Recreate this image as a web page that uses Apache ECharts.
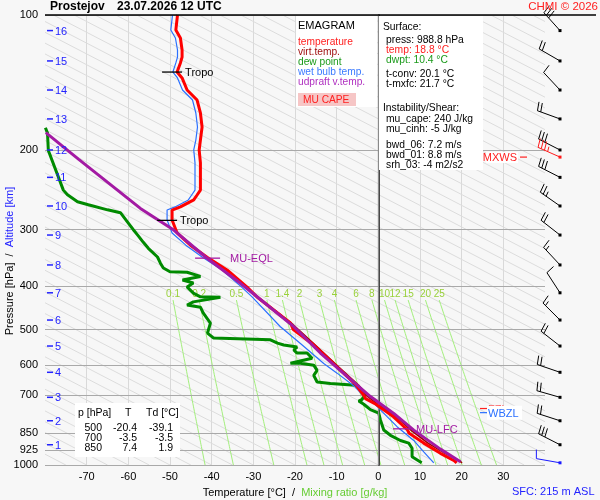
<!DOCTYPE html>
<html>
<head>
<meta charset="utf-8">
<script src="https://cdn.jsdelivr.net/npm/echarts/dist/echarts.min.js"></script>
<style>
  html, body { margin: 0; padding: 0; background: #f7f7f7; }
  #main { width: 600px; height: 500px; }
</style>
</head>
<body>
<div id="main"></div>
<script>
// sounding profiles, [pressure hPa, temperature °C]
var temperature = [
  [100, -48.2], [108, -48.6], [112.5, -47.5], [119.6, -47.1], [124, -47.1], [127.8, -47.5],
  [133.9, -48.3], [138, -47.1], [146.8, -45.9], [154.5, -43.5], [165.1, -42.7], [177.4, -42.3],
  [189.6, -42.7], [199.5, -43.0], [213.1, -42.7], [244.9, -42.7], [251.2, -43.5], [257.6, -44.3],
  [267, -47.5], [271.3, -49.5], [285.5, -49.5], [305, -48.3], [324.7, -45.1], [345.3, -41.1],
  [368.6, -36.3], [402.5, -31.5], [423.4, -29.1], [483.5, -21.1], [500, -20.4], [541.2, -15.5],
  [605.7, -9.9], [664.9, -5.3], [690, -4.0], [700, -3.5], [712, -3.1], [733, -0.6], [778, 3.4],
  [836, 7.0], [850, 7.4], [894, 10.9], [942, 14.9], [977, 18.1], [988.8, 18.8]
];
var virtualTemp = [
  [423.4, -29.0], [484, -20.9], [541, -15.2], [606, -9.5], [665, -4.7], [700, -2.9], [733, -0.1],
  [778, 4.1], [836, 7.8], [894, 11.9], [942, 16.0], [977, 19.3], [988.8, 20.1]
];
var dewPoint = [
  [178, -79.9], [183, -79.4], [200, -79.2], [245, -75.6], [251, -74.6], [260, -72.2], [264, -69.6],
  [271, -65.0], [275, -61.9], [290, -60.0], [300, -58.8], [308, -57.8], [320, -56.4], [330, -55.2],
  [345, -53.0], [356, -52.3], [365, -51.6], [372, -50.0], [373, -45.9], [381, -42.7], [388, -47.0],
  [394, -44.4], [402, -45.9], [415, -44.4], [423, -42.7], [424, -37.9], [434, -44.4], [441, -45.9],
  [446, -42.7], [460, -42.0], [484, -40.3], [509, -41.0], [522, -39.6], [527, -25.9], [536, -24.2],
  [541, -22.7], [547, -19.5], [555, -20.3], [564, -19.5], [564, -17.1], [579, -15.9], [594, -21.1],
  [594, -18.7], [600, -15.5], [616, -14.7], [632, -15.5], [654, -14.7], [659, -11.5], [665, -5.5],
  [675, -4.3], [697, -3.1], [715, -3.9], [721, -4.7], [733, -3.5], [753, -1.9], [767, 0.1],
  [794, 0.5], [836, 1.3], [859, 2.9], [882, 5.3], [894, 7.3], [918, 8.1], [959, 8.1], [988.8, 10.4]
];
var wetBulb = [
  [100, -49.4], [108, -49.8], [112.5, -48.7], [119.6, -48.2], [124, -48.2], [127.8, -48.6],
  [133.9, -49.3], [138, -48.2], [146.8, -47.0], [154.5, -44.6], [165.1, -43.8], [177.4, -43.4],
  [189.6, -43.8], [199.5, -44.3], [213.1, -44.0], [244.9, -44.0], [251.2, -44.8], [257.6, -45.6],
  [267, -48.8], [271.3, -50.7], [285.5, -50.7], [305, -49.5], [324.7, -46.2], [345.3, -42.2],
  [368.6, -37.5], [402.5, -32.8], [423, -30.3], [493, -23.5], [537, -18.7], [595, -13.1],
  [625, -9.9], [670, -5.6], [704, -3.5], [727, -1.2], [781, 2.1], [822, 4.5], [882, 8.5],
  [935, 10.9], [988.8, 13.3]
];
var parcel = [
  [182.6, -79.8], [209.3, -71.9], [269, -57.1], [300.5, -49.1], [347.2, -41.1], [394.7, -33.1],
  [422.7, -29.1], [492.6, -20.3], [563.9, -13.9], [635.5, -7.5], [704.5, -1.9], [768, 3.7],
  [836.6, 8.5], [922, 14.9], [984, 19.7]
];

var pressureLevels = [100, 200, 300, 400, 500, 600, 700, 850, 925, 1000];
var altitudeKm = [1, 2, 3, 4, 5, 6, 7, 8, 9, 10, 11, 12, 13, 14, 15, 16];
var altitudeP = [901.5, 797.4, 707.3, 622.3, 544, 476.3, 414.3, 359.3, 308.3, 265.7, 229.5, 199.5, 170.2, 146.8, 126.5, 108.3];
// winds at the km levels (direction °, speed kt)
var windDir = [297, 288, 286, 289, 308, 315, 327, 317, 308, 305, 297, 297, 290, 317, 300, 318];
var windSpeed = [30, 20, 20, 20, 20, 15, 10, 15, 20, 25, 30, 30, 20, 10, 20, 30];
var maxWind = [[206.9, 294, 35]];
var surfaceWind = [[988.8, 280, 10]];

var mixingRatios = [0.1, 0.2, 0.5, 1, 1.4, 2, 3, 4, 6, 8, 10, 12, 15, 20, 25];
var tropopause = [[133.9, -48.3], [286, -49.5]];
var muEql = [[347, -41.1]];
var muLfc = [[831, 8.1]];
var freezingLevel = 749;
var wetBulbZero = 765;

var tableP = [500, 700, 850];
var tableT = [-20.4, -3.5, 7.4];
var tableTd = [-39.1, -3.5, 1.9];

var FONT = '"Liberation Sans", Arial, sans-serif';
var ADIABAT_K = 208;   // straight dry adiabats: °C per decade of pressure
var adiabatStarts = [];
for (var t = -80; t <= 250; t += 5) adiabatStarts.push([t]);

function mixingTemp(w, p) {
  var e = w * p / (622 + w);
  var l = Math.log(e / 6.112);
  return 243.5 * l / (17.67 - l);
}

function toXY(list) {
  return list.map(function (d) { return [d[1], d[0]]; });
}

function between(list, pTop, pBottom) {
  return list.filter(function (d) { return d[0] >= pTop && d[0] <= pBottom; });
}

function profile(name, data, color, width, z) {
  return {
    type: 'line', name: name, data: toXY(data), symbol: 'none', z: z,
    lineStyle: { color: color, width: width }, clip: true, silent: true
  };
}

function barbSeries(list, color) {
  return {
    type: 'custom', coordinateSystem: 'cartesian2d', clip: false, z: 8, silent: true,
    encode: { y: 0 },
    data: list,
    renderItem: function (params, api) {
      var p = api.value(0), dir = api.value(1) * Math.PI / 180, spd = api.value(2);
      var edge = api.coord([40, p]);
      var x0 = edge[0] + 15, y0 = edge[1];
      var ux = Math.sin(dir), uy = -Math.cos(dir);
      var L = 24, ang = 80 * Math.PI / 180;
      var fx = ux * Math.cos(ang) - uy * Math.sin(ang);
      var fy = ux * Math.sin(ang) + uy * Math.cos(ang);
      var kids = [
        { type: 'line', shape: { x1: x0, y1: y0, x2: x0 + ux * L, y2: y0 + uy * L }, style: { stroke: color, lineWidth: 1 } },
        { type: 'rect', shape: { x: x0 - 1.5, y: y0 - 1.5, width: 3, height: 3 }, style: { fill: color } }
      ];
      function feather(s, len) {
        var sx = x0 + ux * s, sy = y0 + uy * s;
        kids.push({ type: 'line', shape: { x1: sx, y1: sy, x2: sx + fx * len, y2: sy + fy * len }, style: { stroke: color, lineWidth: 1 } });
      }
      var n10 = Math.floor(spd / 10), n5 = (spd % 10) >= 5 ? 1 : 0;
      var s = L;
      for (var i = 0; i < n10; i++) { feather(s, 9); s -= 3.5; }
      if (n5) { if (n10 === 0) s -= 3.5; feather(s, 5); }
      return { type: 'group', children: kids };
    }
  };
}

function levelMark(list, text, color, from, to, gap) {
  return {
    type: 'custom', coordinateSystem: 'cartesian2d', clip: false, z: 7, silent: true,
    encode: { x: 1, y: 0 },
    data: list,
    renderItem: function (params, api) {
      var pt = api.coord([api.value(1), api.value(0)]);
      return { type: 'group', children: [
        { type: 'line', shape: { x1: pt[0] + from, y1: pt[1], x2: pt[0] + to, y2: pt[1] }, style: { stroke: color, lineWidth: 1.3 } },
        { type: 'text', style: { text: text, x: pt[0] + to + gap, y: pt[1] + 1, fill: color, font: '11px ' + FONT, align: 'left', verticalAlign: 'middle' } }
      ] };
    }
  };
}

var chart = echarts.init(document.getElementById('main'));

var option = {
  backgroundColor: '#f7f7f7',
  animation: false,
  grid: { left: 45, top: 15, width: 500, height: 450, containLabel: false, outerBoundsMode: 'none' },
  xAxis: {
    type: 'value', min: -80, max: 40, interval: 10, z: 0,
    axisLine: { show: false }, axisTick: { show: false },
    axisLabel: {
      fontSize: 11, fontFamily: FONT, color: '#000', margin: 6,
      formatter: function (v) { return (v === -80 || v === 40) ? '' : String(v); }
    },
    splitLine: { show: true, showMinLine: false, showMaxLine: false, lineStyle: { color: '#d9d9d9', width: 1 } },
    name: '{a|Temperature [°C]}  /  {b|Mixing ratio [g/kg]}',
    nameLocation: 'middle', nameGap: 22,
    nameTextStyle: {
      fontSize: 11, fontFamily: FONT, color: '#000',
      rich: { a: { fontSize: 11, fontFamily: FONT, color: '#000' }, b: { fontSize: 11, fontFamily: FONT, color: '#66cc33' } }
    }
  },
  yAxis: {
    type: 'log', logBase: 10, min: 100, max: 1000, inverse: true, z: 2,
    axisLine: { show: true, lineStyle: { color: '#000', width: 1.5 } },
    axisTick: { show: false, customValues: pressureLevels },
    axisLabel: {
      customValues: pressureLevels, fontSize: 11, fontFamily: FONT, color: '#000', margin: 7,
      formatter: function (v) { return String(Math.round(v)); }
    },
    splitLine: { show: true, lineStyle: { color: '#a9a9a9', width: 1.2 } }
  },
  series: [
    {
      type: 'custom', name: 'adiabats', coordinateSystem: 'cartesian2d', clip: true, z: 0, silent: true,
      data: adiabatStarts,
      renderItem: function (params, api) {
        var t0 = api.value(0);
        var a = api.coord([t0, 1000]), b = api.coord([t0 - ADIABAT_K, 100]);
        return { type: 'line', shape: { x1: a[0], y1: a[1], x2: b[0], y2: b[1] }, style: { stroke: '#dcdcdc', lineWidth: 1 } };
      }
    },
    {
      type: 'custom', name: 'mixing ratio', coordinateSystem: 'cartesian2d', clip: true, z: 1, silent: true,
      data: mixingRatios.map(function (w) { return [w]; }),
      renderItem: function (params, api) {
        var w = api.value(0), pts = [];
        for (var p = 430; p <= 1000; p += 10) pts.push(api.coord([mixingTemp(w, p), p]));
        var top = pts[0];
        return { type: 'group', children: [
          { type: 'polyline', shape: { points: pts }, style: { stroke: '#a3ef7c', lineWidth: 1, fill: 'none' } },
          { type: 'text', style: { text: String(w), x: top[0], y: top[1] - 6, fill: '#99d13a', font: '10px ' + FONT, align: 'center', verticalAlign: 'middle' } }
        ] };
      },
      markLine: {
        silent: true, symbol: ['none', 'none'], label: { show: false },
        lineStyle: { color: '#8a8a8a', type: 'solid', width: 1.3 },
        data: [{ xAxis: 0 }]
      }
    },
    {
      type: 'custom', name: 'MU CAPE', coordinateSystem: 'cartesian2d', clip: true, z: 2, silent: true,
      data: [[muEql[0][0], muLfc[0][0]]],
      encode: { y: 0 },
      renderItem: function (params, api) {
        var pTop = api.value(0), pBottom = api.value(1);
        var up = between(parcel, pTop, pBottom).map(function (d) { return api.coord([d[1], d[0]]); });
        var env = between(temperature, pTop, pBottom).reverse().map(function (d) { return api.coord([d[1], d[0]]); });
        return { type: 'polygon', shape: { points: up.concat(env) }, style: { fill: '#f4b8c4' } };
      }
    },
    profile('dew point', dewPoint, '#008a00', 3, 3),
    profile('virt.temp.', virtualTemp, '#a00000', 1.6, 3),
    profile('wet bulb temp.', wetBulb, '#2b70ff', 1.2, 4),
    profile('temperature', temperature, '#ff0000', 3, 5),
    profile('udpraft v.temp.', parcel, '#a31aa3', 3, 6),
    {
      type: 'custom', name: 'altitude', coordinateSystem: 'cartesian2d', clip: false, z: 7, silent: true,
      encode: { y: 1 },
      data: altitudeKm.map(function (k, i) { return [k, altitudeP[i]]; }),
      renderItem: function (params, api) {
        var pt = api.coord([-80, api.value(1)]);
        return { type: 'group', children: [
          { type: 'line', shape: { x1: pt[0] + 2, y1: pt[1], x2: pt[0] + 8, y2: pt[1] }, style: { stroke: '#2323ff', lineWidth: 1.5 } },
          { type: 'text', style: { text: String(api.value(0)), x: pt[0] + 10, y: pt[1] + 1, fill: '#2323ff', font: '11px ' + FONT, align: 'left', verticalAlign: 'middle' } }
        ] };
      }
    },
    levelMark(tropopause, 'Tropo', '#000', -15, 5, 3),
    levelMark(muEql, 'MU-EQL', '#a31aa3', -12, 13, 10),
    levelMark(muLfc, 'MU-LFC', '#a31aa3', -19, 1, 3),
    {
      type: 'custom', name: 'levels', coordinateSystem: 'cartesian2d', clip: false, z: 9, silent: true,
      encode: { y: 0 },
      data: [[maxWind[0][0], 0], [freezingLevel, 1], [wetBulbZero, 2]],
      renderItem: function (params, api) {
        var pt = api.coord([40, api.value(0)]), kind = api.value(1);
        var x = pt[0], y = pt[1];
        if (kind === 0) {
          return { type: 'group', children: [
            { type: 'rect', shape: { x: x - 59, y: y - 5, width: 32, height: 11 }, style: { fill: '#fff' } },
            { type: 'text', style: { text: 'MXWS', x: x - 28, y: y + 1, fill: '#ff2020', font: '11px ' + FONT, align: 'right', verticalAlign: 'middle' } },
            { type: 'line', shape: { x1: x - 25, y1: y, x2: x - 18, y2: y }, style: { stroke: '#ff2020', lineWidth: 1.2 } }
          ] };
        }
        if (kind === 1) {
          return { type: 'group', children: [
            { type: 'line', shape: { x1: x - 65, y1: y, x2: x - 58, y2: y }, style: { stroke: '#ff2020', lineWidth: 1.2 } },
            { type: 'text', style: { text: 'FZL', x: x - 57, y: y + 1, fill: '#ff2020', font: '11px ' + FONT, align: 'left', verticalAlign: 'middle' } }
          ] };
        }
        return { type: 'group', children: [
          { type: 'rect', shape: { x: x - 58, y: y - 7, width: 35, height: 14 }, style: { fill: '#fff' } },
          { type: 'line', shape: { x1: x - 65, y1: y, x2: x - 58, y2: y }, style: { stroke: '#2b70ff', lineWidth: 1.2 } },
          { type: 'text', style: { text: 'WBZL', x: x - 57, y: y + 1, fill: '#2b70ff', font: '11px ' + FONT, align: 'left', verticalAlign: 'middle' } }
        ] };
      }
    },
    barbSeries(altitudeP.map(function (p, i) { return [p, windDir[i], windSpeed[i]]; }), '#000'),
    barbSeries(maxWind, '#ff1a1a'),
    barbSeries(surfaceWind, '#1a1aff')
  ],
  graphic: []
};

function label(x, y, text, color, size, weight, align) {
  return {
    type: 'text', x: x, y: y, z: 100, silent: true,
    style: { text: text, fill: color, font: (weight || 'normal') + ' ' + size + 'px ' + FONT, align: align || 'left', verticalAlign: 'middle' }
  };
}

var g = option.graphic;
g.push({ type: 'line', z: 100, shape: { x1: 45, y1: 15, x2: 596, y2: 15 }, style: { stroke: '#000', lineWidth: 1.5 } });
g.push(label(50, 7, 'Prostejov', '#000', 12, 'bold'));
g.push(label(117, 7, '23.07.2026 12 UTC', '#000', 12, 'bold'));
g.push(label(598, 7, 'CHMI © 2026', '#ff2020', 11.5, 'normal', 'right'));

// EMAGRAM legend box
g.push({ type: 'rect', z: 99, shape: { x: 296, y: 16, width: 81, height: 91 }, style: { fill: '#fff' } });
g.push(label(298, 26, 'EMAGRAM', '#000', 11));
g.push(label(298, 42, 'temperature', '#ff2020', 10.2));
g.push(label(298, 52, 'virt.temp.', '#a01010', 10.2));
g.push(label(298, 62, 'dew point', '#1a9a1a', 10.2));
g.push(label(298, 72, 'wet bulb temp.', '#3a7aff', 10.2));
g.push(label(298, 82, 'udpraft v.temp.', '#b030c0', 10.2));
g.push({ type: 'rect', z: 100, shape: { x: 298, y: 93, width: 58, height: 13 }, style: { fill: '#f6c6c6' } });
g.push(label(303, 100, 'MU CAPE', '#ff2020', 10.2));

// surface box
g.push({ type: 'rect', z: 99, shape: { x: 379, y: 16, width: 104, height: 154 }, style: { fill: '#fff' } });
var surfaceRows = [
  [383, 27, 'Surface:', '#000'], [386, 40, 'press: 988.8 hPa', '#000'], [386, 50, 'temp: 18.8 °C', '#ff2020'],
  [386, 60, 'dwpt: 10.4 °C', '#1a9a1a'], [386, 74, 't-conv: 20.1 °C', '#000'], [386, 84, 't-mxfc: 21.7 °C', '#000'],
  [383, 108, 'Instability/Shear:', '#000'], [386, 119, 'mu_cape: 240 J/kg', '#000'], [386, 129, 'mu_cinh: -5 J/kg', '#000'],
  [386, 145, 'bwd_06: 7.2 m/s', '#000'], [386, 155, 'bwd_01: 8.8 m/s', '#000'], [386, 165, 'srh_03: -4 m2/s2', '#000']
];
surfaceRows.forEach(function (r) { g.push(label(r[0], r[1], r[2], r[3], 10.3)); });

// level table
g.push({ type: 'rect', z: 99, shape: { x: 75, y: 403, width: 105, height: 54 }, style: { fill: '#fff' } });
g.push(label(78, 413, 'p [hPa]', '#000', 10.5));
g.push(label(125, 413, 'T', '#000', 10.5));
g.push(label(146, 413, 'Td [°C]', '#000', 10.5));
tableP.forEach(function (p, i) {
  var y = 428 + i * 10;
  g.push(label(102, y, String(p), '#000', 10.5, 'normal', 'right'));
  g.push(label(137, y, tableT[i].toFixed(1), '#000', 10.5, 'normal', 'right'));
  g.push(label(173, y, tableTd[i].toFixed(1), '#000', 10.5, 'normal', 'right'));
});

g.push(label(512, 492, 'SFC: 215 m ASL', '#2323ff', 11));
g.push({
  type: 'text', x: 10, y: 261, rotation: Math.PI / 2, z: 100, silent: true,
  style: {
    text: '{a|Pressure [hPa]}  /  {b|Altitude [km]}', font: '11px ' + FONT, fill: '#000',
    align: 'center', verticalAlign: 'middle',
    rich: { a: { fill: '#000', fontSize: 11, fontFamily: FONT }, b: { fill: '#2323ff', fontSize: 11, fontFamily: FONT } }
  }
});

chart.setOption(option);
window.addEventListener('resize', function () { chart.resize(); });
</script>
</body>
</html>
